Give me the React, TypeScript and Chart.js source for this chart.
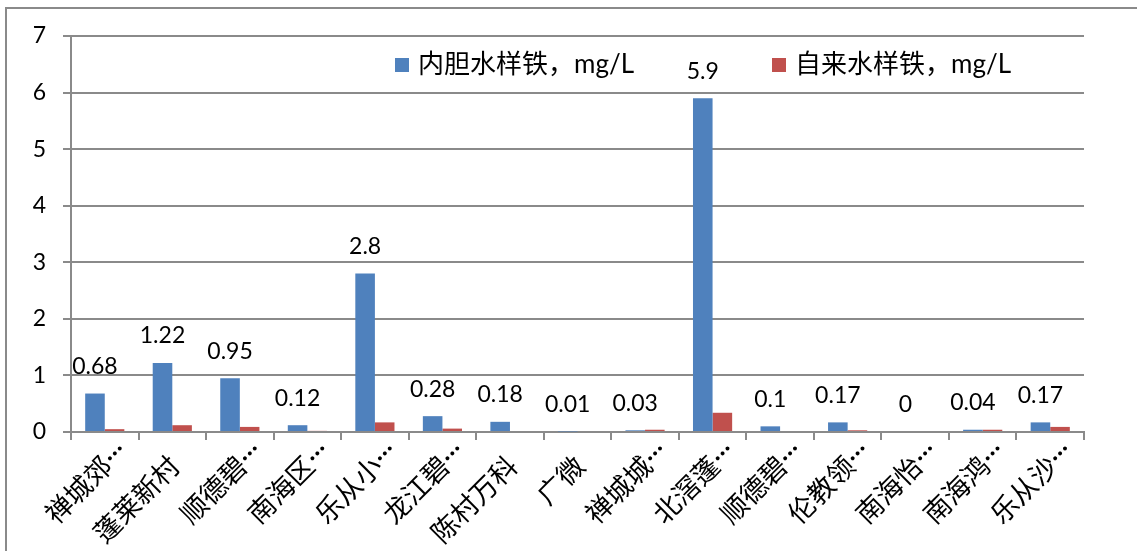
import { useEffect, useRef } from "react";
import { Chart, registerables } from "chart.js";

Chart.register(...registerables);

// Sampling sites (truncated names as shown on the axis)
const categories = [
  "禅城郊…",
  "蓬莱新村",
  "顺德碧…",
  "南海区…",
  "乐从小…",
  "龙江碧…",
  "陈村万科",
  "广微",
  "禅城城…",
  "北滘蓬…",
  "顺德碧…",
  "伦教领…",
  "南海怡…",
  "南海鸿…",
  "乐从沙…",
];

// Iron in water from the heater's inner tank, mg/L
const innerTankIron = [0.68, 1.22, 0.95, 0.12, 2.8, 0.28, 0.18, 0.01, 0.03, 5.9, 0.1, 0.17, 0, 0.04, 0.17];

// Iron in tap water, mg/L
const tapWaterIron = [0.05, 0.12, 0.09, 0.02, 0.17, 0.06, 0, 0, 0.04, 0.34, 0, 0.03, 0, 0.04, 0.09];

const seriesNames = ["内胆水样铁，mg/L", "自来水样铁，mg/L"];
const yTicks = [0, 1, 2, 3, 4, 5, 6, 7];

const BLUE = "#4F81BD";
const RED = "#C0504D";
const GRID = "#8a8a8a";
const NUM_FONT = "Lato, 'Liberation Sans', sans-serif";
const CJK_FONT = "'Noto Sans CJK SC', sans-serif";

// Value labels above the inner-tank bars
const valueLabels = {
  id: "valueLabels",
  afterDatasetsDraw(chart: any) {
    const ctx = chart.ctx;
    const meta = chart.getDatasetMeta(0);
    const data = chart.data.datasets[0].data as number[];
    ctx.save();
    ctx.font = `23px ${NUM_FONT}`;
    ctx.fillStyle = "#000";
    ctx.textAlign = "center";
    ctx.textBaseline = "middle";
    meta.data.forEach((bar: any, i: number) => {
      ctx.fillText(String(data[i]), bar.x, bar.y - 27);
    });
    ctx.restore();
  },
};

// Rotated category names; a trailing ellipsis runs on past the name
const categoryLabels = {
  id: "categoryLabels",
  afterDraw(chart: any) {
    const ctx = chart.ctx;
    const xs = chart.scales.x;
    const names = chart.data.labels as string[];
    ctx.save();
    ctx.fillStyle = "#000";
    names.forEach((name, i) => {
      const x = xs.getPixelForValue(i) + 2;
      const y = xs.top + 29;
      const cut = name.endsWith("…");
      const main = cut ? name.slice(0, -1) : name;
      ctx.save();
      ctx.translate(x, y);
      ctx.rotate(-Math.PI / 4);
      ctx.font = `27px ${CJK_FONT}`;
      ctx.textAlign = "right";
      ctx.textBaseline = "middle";
      ctx.fillText(main, 0, 0);
      if (cut) {
        ctx.font = `bold 26px ${NUM_FONT}`;
        ctx.textAlign = "left";
        ctx.textBaseline = "alphabetic";
        ctx.fillText("…", 1, 2);
      }
      ctx.restore();
    });
    ctx.restore();
  },
};

// Legend drawn inside the plot area
const innerLegend = {
  id: "innerLegend",
  afterDraw(chart: any, _args: any, opts: any) {
    const ctx = chart.ctx;
    const xs: number[] = opts.positions;
    ctx.save();
    chart.data.datasets.forEach((ds: any, i: number) => {
      const x = xs[i];
      const y = opts.y;
      ctx.fillStyle = ds.backgroundColor;
      ctx.fillRect(x, y - 7, 14, 14);
      ctx.fillStyle = "#000";
      ctx.font = `26px Lato, ${CJK_FONT}`;
      ctx.textAlign = "left";
      ctx.textBaseline = "middle";
      ctx.fillText(ds.label, x + 23, y);
    });
    ctx.restore();
  },
};

export default function App() {
  const ref = useRef<HTMLCanvasElement>(null);

  useEffect(() => {
    const chart = new Chart(ref.current!, {
      type: "bar",
      data: {
        labels: categories,
        datasets: [
          {
            label: seriesNames[0],
            data: innerTankIron,
            backgroundColor: BLUE,
            categoryPercentage: 0.58,
            barPercentage: 1,
          },
          {
            label: seriesNames[1],
            data: tapWaterIron,
            backgroundColor: RED,
            categoryPercentage: 0.58,
            barPercentage: 1,
          },
        ],
      },
      options: {
        responsive: false,
        animation: false,
        layout: { padding: { left: 0, right: 53, top: 36, bottom: 0 } },
        plugins: {
          legend: { display: false },
          tooltip: { enabled: false },
          innerLegend: { positions: [395, 772], y: 65 },
        } as any,
        scales: {
          x: {
            offset: true,
            grid: {
              offset: true,
              drawOnChartArea: false,
              drawTicks: true,
              tickLength: 8,
              color: GRID,
              lineWidth: 2,
            },
            border: { display: true, color: GRID, width: 2 },
            ticks: { display: false },
            afterFit(axis: any) {
              axis.height = 119;
            },
          },
          y: {
            min: 0,
            max: 7,
            afterBuildTicks(axis: any) {
              axis.ticks = yTicks.map((v) => ({ value: v }));
            },
            grid: {
              color: GRID,
              lineWidth: 2,
              drawTicks: true,
              tickLength: 8,
            },
            border: { display: true, color: GRID, width: 2 },
            ticks: {
              padding: 17,
              color: "#000",
              font: { family: NUM_FONT, size: 23 },
            },
            afterFit(axis: any) {
              axis.width = 71;
            },
          },
        },
      },
      plugins: [valueLabels, categoryLabels, innerLegend],
    });
    if ((document as any).fonts && (document as any).fonts.ready) {
      (document as any).fonts.ready.then(() => chart.update());
    }
    return () => chart.destroy();
  }, []);

  return (
    <div
      style={{
        position: "fixed",
        left: 0,
        top: 0,
        width: 1137,
        height: 551,
        background: "#fff",
        overflow: "hidden",
      }}
    >
      <div
        style={{
          position: "absolute",
          left: 5,
          top: 7,
          right: 0,
          bottom: 0,
          borderLeft: `2px solid ${GRID}`,
          borderTop: `2px solid ${GRID}`,
        }}
      />
      <canvas
        ref={ref}
        width={1137}
        height={551}
        style={{ position: "absolute", left: 0, top: 0, width: 1137, height: 551 }}
      />
    </div>
  );
}
